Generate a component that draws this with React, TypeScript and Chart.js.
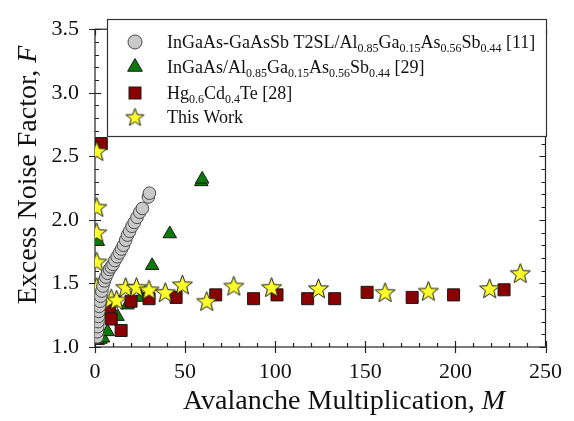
import React, { useEffect, useRef } from 'react';
import { Chart, registerables } from 'chart.js';

Chart.register(...registerables);

const FONT = '"Liberation Serif", "Times New Roman", serif';

const xTicks = [0, 50, 100, 150, 200, 250];
const yTicks = [1.0, 1.5, 2.0, 2.5, 3.0, 3.5];

// InGaAs-GaAsSb T2SL/AlGaAsSb [11]
const t2slM = [1.2, 1.3, 1.5, 1.7, 1.9, 2.1, 2.4, 2.8, 3.2, 3.8, 4.4, 5.2, 6.0, 7.0, 8.0, 9.0, 10.0, 11.0, 12.3, 13.5, 14.7, 15.8, 17.0, 18.0, 19.2, 20.5, 21.8, 23.3, 24.8, 26.3, 29.6, 30.2];
const t2slF = [1.08, 1.12, 1.16, 1.2, 1.24, 1.28, 1.32, 1.36, 1.4, 1.44, 1.48, 1.52, 1.55, 1.58, 1.61, 1.63, 1.65, 1.68, 1.71, 1.74, 1.77, 1.8, 1.84, 1.88, 1.91, 1.95, 1.98, 2.02, 2.06, 2.09, 2.18, 2.21];

// InGaAs/AlGaAsSb [29]
const ingaasM = [1.5, 3.0, 4.5, 7.0, 12.5, 18.0, 25.5, 31.7, 41.5, 59.0, 59.5, 1.6];
const ingaasF = [1.05, 1.06, 1.07, 1.12, 1.24, 1.33, 1.39, 1.64, 1.89, 2.3, 2.32, 1.83];

// Hg0.6Cd0.4Te [28]
const hgcdteM = [3.5, 8, 9, 14.5, 20, 30, 45, 67, 88, 101, 118, 133, 151, 176, 199, 227];
const hgcdteF = [2.6, 1.3, 1.22, 1.13, 1.36, 1.38, 1.39, 1.41, 1.38, 1.41, 1.38, 1.38, 1.43, 1.39, 1.41, 1.45];

// This Work
const thisM = [1, 1, 1, 1, 1, 9, 12, 17, 23, 30, 39, 48.5, 62, 77, 98, 124, 161, 185, 219, 236];
const thisF = [2.54, 2.1, 1.9, 1.67, 1.47, 1.38, 1.37, 1.47, 1.47, 1.45, 1.43, 1.49, 1.36, 1.48, 1.47, 1.46, 1.43, 1.44, 1.46, 1.58];

const zip = (xs: number[], ys: number[]) => xs.map((v, i) => ({ x: v, y: ys[i] }));

const C_CIRCLE = '#c9c9c9';
const C_CIRCLE_B = '#4a4a4a';
const C_TRI = '#0b7a0b';
const C_SQ = '#8a0000';
const C_STAR = '#ffff2a';
const C_EDGE = '#1a1a1a';

function drawStarPath(ctx: CanvasRenderingContext2D, cx: number, cy: number, R: number, r: number) {
  ctx.beginPath();
  for (let i = 0; i < 10; i++) {
    const ang = -Math.PI / 2 + (i * Math.PI) / 5;
    const rad = i % 2 === 0 ? R : r;
    const px = cx + Math.cos(ang) * rad;
    const py = cy + Math.sin(ang) * rad;
    if (i === 0) ctx.moveTo(px, py);
    else ctx.lineTo(px, py);
  }
  ctx.closePath();
}

function makeStar(R: number): HTMLCanvasElement {
  const s = Math.ceil(R * 2 + 4);
  const c = document.createElement('canvas');
  c.width = s;
  c.height = s;
  const ctx = c.getContext('2d')!;
  drawStarPath(ctx, s / 2, s / 2 + 0.8, R, R * 0.42);
  ctx.fillStyle = C_STAR;
  ctx.fill();
  ctx.strokeStyle = C_EDGE;
  ctx.lineWidth = 1;
  ctx.stroke();
  return c;
}

type Seg = { t: string; sub?: boolean; it?: boolean };

function drawRich(ctx: CanvasRenderingContext2D, segs: Seg[], x: number, y: number, size: number) {
  let cx = x;
  for (const s of segs) {
    const fs = s.sub ? Math.round(size * 0.68) : size;
    ctx.font = `${s.it ? 'italic ' : ''}${fs}px ${FONT}`;
    ctx.fillText(s.t, cx, s.sub ? y + size * 0.3 : y);
    cx += ctx.measureText(s.t).width;
  }
  return cx - x;
}

function richWidth(ctx: CanvasRenderingContext2D, segs: Seg[], size: number) {
  let w = 0;
  for (const s of segs) {
    const fs = s.sub ? Math.round(size * 0.68) : size;
    ctx.font = `${s.it ? 'italic ' : ''}${fs}px ${FONT}`;
    w += ctx.measureText(s.t).width;
  }
  return w;
}

const legendRows: Seg[][] = [
  [{ t: 'InGaAs-GaAsSb T2SL/Al' }, { t: '0.85', sub: true }, { t: 'Ga' }, { t: '0.15', sub: true }, { t: 'As' }, { t: '0.56', sub: true }, { t: 'Sb' }, { t: '0.44', sub: true }, { t: ' [11]' }],
  [{ t: 'InGaAs/Al' }, { t: '0.85', sub: true }, { t: 'Ga' }, { t: '0.15', sub: true }, { t: 'As' }, { t: '0.56', sub: true }, { t: 'Sb' }, { t: '0.44', sub: true }, { t: ' [29]' }],
  [{ t: 'Hg' }, { t: '0.6', sub: true }, { t: 'Cd' }, { t: '0.4', sub: true }, { t: 'Te [28]' }],
  [{ t: 'This Work' }],
];

export default function App() {
  const ref = useRef<HTMLCanvasElement | null>(null);

  useEffect(() => {
    if (!ref.current) return;
    const star = makeStar(10.5);
    const legendStar = makeStar(9.5);

    const framePlugin = {
      id: 'frame',
      beforeDatasetsDraw(chart: any) {
        const { ctx, chartArea: a, scales } = chart;
        const x = scales.x;
        const y = scales.y;
        ctx.save();
        ctx.strokeStyle = '#222';
        ctx.lineWidth = 1.2;
        ctx.strokeRect(a.left, a.top, a.right - a.left, a.bottom - a.top);
        ctx.beginPath();
        for (let v = 0; v <= 250; v += 10) {
          const px = Math.round(x.getPixelForValue(v)) + 0.5;
          const major = v % 50 === 0;
          ctx.moveTo(px, a.bottom + (major ? 6 : 0));
          ctx.lineTo(px, a.bottom - (major ? 6 : 4));
          ctx.moveTo(px, a.top);
          ctx.lineTo(px, a.top + (major ? 6 : 4));
        }
        for (let i = 10; i <= 35; i++) {
          const py = Math.round(y.getPixelForValue(i / 10)) + 0.5;
          const major = i % 5 === 0;
          ctx.moveTo(a.left - (major ? 6 : 0), py);
          ctx.lineTo(a.left + (major ? 6 : 4), py);
          ctx.moveTo(a.right, py);
          ctx.lineTo(a.right - (major ? 6 : 4), py);
        }
        ctx.stroke();
        ctx.restore();
      },
      afterDatasetsDraw(chart: any) {
        const { ctx } = chart;
        ctx.save();
        // legend box
        const bx = 107, by = 19, bw = 439, bh = 117;
        ctx.fillStyle = '#ffffff';
        ctx.fillRect(bx, by, bw, bh);
        ctx.strokeStyle = '#333';
        ctx.lineWidth = 1.2;
        ctx.strokeRect(bx + 0.5, by + 0.5, bw, bh);
        const rowsY = [42, 67, 93, 117];
        const mx = 135;
        // circle
        ctx.beginPath();
        ctx.arc(mx, rowsY[0], 7, 0, Math.PI * 2);
        ctx.fillStyle = C_CIRCLE;
        ctx.fill();
        ctx.strokeStyle = C_CIRCLE_B;
        ctx.lineWidth = 1;
        ctx.stroke();
        // triangle
        const r = 8.5;
        ctx.beginPath();
        ctx.moveTo(mx, rowsY[1] - r);
        ctx.lineTo(mx + 0.866 * r, rowsY[1] + 0.5 * r);
        ctx.lineTo(mx - 0.866 * r, rowsY[1] + 0.5 * r);
        ctx.closePath();
        ctx.fillStyle = C_TRI;
        ctx.fill();
        ctx.strokeStyle = C_EDGE;
        ctx.stroke();
        // square
        ctx.fillStyle = C_SQ;
        ctx.fillRect(mx - 6, rowsY[2] - 6, 12, 12);
        ctx.strokeStyle = C_EDGE;
        ctx.strokeRect(mx - 6, rowsY[2] - 6, 12, 12);
        // star
        ctx.drawImage(legendStar, mx - legendStar.width / 2, rowsY[3] - legendStar.height / 2);
        // texts
        ctx.fillStyle = '#111';
        ctx.textBaseline = 'middle';
        ctx.textAlign = 'left';
        legendRows.forEach((segs, i) => drawRich(ctx, segs, 167, rowsY[i] + 1, 18));

        // axis titles
        const xt: Seg[] = [{ t: 'Avalanche Multiplication, ' }, { t: 'M', it: true }];
        const xw = richWidth(ctx, xt, 28);
        drawRich(ctx, xt, 344 - xw / 2, 402, 28);
        const yt: Seg[] = [{ t: 'Excess Noise Factor, ' }, { t: 'F', it: true }];
        const yw = richWidth(ctx, yt, 28);
        ctx.translate(29, 175);
        ctx.rotate(-Math.PI / 2);
        drawRich(ctx, yt, -yw / 2, 0, 28);
        ctx.restore();
      },
    };

    const chart = new Chart(ref.current, {
      type: 'scatter',
      data: {
        datasets: [
          {
            label: 'InGaAs-GaAsSb T2SL',
            data: zip(t2slM, t2slF),
            pointStyle: 'circle',
            pointRadius: 6.3,
            backgroundColor: C_CIRCLE,
            borderColor: C_CIRCLE_B,
            borderWidth: 1,
          },
          {
            label: 'This Work',
            data: zip(thisM, thisF),
            pointStyle: star as any,
            pointRadius: 10,
            backgroundColor: C_STAR,
            borderColor: C_EDGE,
          },
          {
            label: 'HgCdTe',
            data: zip(hgcdteM, hgcdteF),
            pointStyle: 'rect',
            pointRadius: 8.5,
            backgroundColor: C_SQ,
            borderColor: C_EDGE,
            borderWidth: 1,
          },
          {
            label: 'InGaAs/AlGaAsSb',
            data: zip(ingaasM, ingaasF),
            pointStyle: 'triangle',
            pointRadius: 7.8,
            backgroundColor: C_TRI,
            borderColor: C_EDGE,
            borderWidth: 1,
          },
        ],
      },
      options: {
        animation: false,
        responsive: false,
        maintainAspectRatio: false,
        layout: { padding: { top: 17, right: 21, left: 0, bottom: 0 } },
        plugins: {
          legend: { display: false },
          tooltip: { enabled: false },
        },
        scales: {
          x: {
            type: 'linear',
            min: 0,
            max: 250,
            afterFit: (s: any) => {
              s.height = 74;
            },
            afterBuildTicks: (s: any) => {
              s.ticks = xTicks.map((v) => ({ value: v }));
            },
            grid: { display: false, drawTicks: false },
            border: { display: false },
            ticks: {
              padding: 12,
              color: '#111',
              font: { family: FONT, size: 22 },
              callback: (v: any) => String(v),
            },
          },
          y: {
            type: 'linear',
            min: 1,
            max: 3.5,
            afterFit: (s: any) => {
              s.width = 95;
            },
            afterBuildTicks: (s: any) => {
              s.ticks = yTicks.map((v) => ({ value: v }));
            },
            grid: { display: false, drawTicks: false },
            border: { display: false },
            ticks: {
              padding: 16,
              color: '#111',
              font: { family: FONT, size: 22 },
              callback: (v: any) => Number(v).toFixed(1),
            },
          },
        },
      },
      plugins: [framePlugin],
    });
    return () => chart.destroy();
  }, []);

  return (
    <div style={{ position: 'absolute', left: 0, top: 0, width: 574, height: 421, background: '#fff' }}>
      <canvas ref={ref} width={574} height={421} style={{ display: 'block', width: 574, height: 421 }} />
    </div>
  );
}
